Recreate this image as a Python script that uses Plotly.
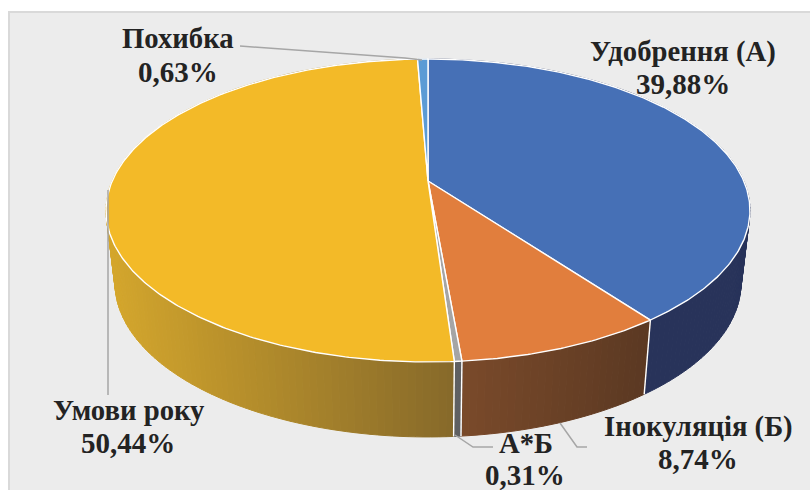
import numpy as np
import plotly.graph_objects as go

categories = ["Удобрення (А)", "Інокуляція (Б)", "А*Б", "Умови року", "Похибка"]
values = [39.88, 8.74, 0.31, 50.44, 0.63]
top_colors = ["#4670B6", "#E17E3D", "#A5A5A5", "#F3BA28", "#5B9BD5"]
side_left = ["#28335A", "#7A4A2A", "#5F6062", "#D6A82C", "#3A6A9A"]
side_right = ["#28335A", "#5A3822", "#5F6062", "#86692A", "#3A6A9A"]

# layout constants (pixels of the 810x490 page)
W, H = 810, 490
CX, K = 428.0, 0.1947
TOP = dict(a=315.8, p=181.0, q=-110.5)
BOT = dict(a=307.0, p=253.0, q=-98.9)
NAME_POS = [(683, 51), (698, 426), (526, 443), (129, 410), (178, 38)]
VALUE_POS = [(683, 84), (698, 459), (525, 475), (128, 443), (178, 72)]
LEADERS = [
    ([240, 405, 422], [46, 58, 60]),
    ([108, 108], [190, 395]),
    ([455, 473, 493], [435, 447, 447]),
    ([560, 577, 587], [423, 447, 447]),
]


def project(theta, disc, r=1.0):
    X, Y = r * np.sin(theta), r * np.cos(theta)
    d = 1 + K * Y
    return CX + disc["a"] * X / d, (disc["p"] + disc["q"] * Y) / d


def mix(c1, c2, t):
    a = [int(c1[i:i + 2], 16) for i in (1, 3, 5)]
    b = [int(c2[i:i + 2], 16) for i in (1, 3, 5)]
    return "rgb(%d,%d,%d)" % tuple(round(u + (v - u) * t) for u, v in zip(a, b))


def poly(x, y, fill=None, line=None, width=0.0):
    return go.Scatter(
        x=list(x), y=list(y), mode="lines",
        fill="toself" if fill else "none", fillcolor=fill,
        line=dict(color=line or fill, width=width),
        hoverinfo="skip", showlegend=False,
    )


fig = go.Figure()
total = sum(values)
edges = np.concatenate([[0], np.cumsum(values)]) / total * 2 * np.pi
spans = list(zip(edges[:-1], edges[1:]))

# white halo of the lower rim: drawn first, the walls cover its inner half
th_all = np.linspace(0, 2 * np.pi, 400)
hx, hy = project(th_all, BOT)
fig.add_trace(poly(hx, hy, line="#FFFFFF", width=1.4))

# side walls: gradient strips
for (t0, t1), cl, cr in zip(spans, side_left, side_right):
    n = max(2, int((t1 - t0) / 0.02))
    th = np.linspace(t0, t1, n + 1)
    xb, yb = project(th, BOT)
    xt, yt = project(th, TOP)
    xmin, xmax = min(xb.min(), xt.min()), max(xb.max(), xt.max())
    for i in range(n):
        u = (0.5 * (xb[i] + xb[i + 1]) - xmin) / max(xmax - xmin, 1)
        c = mix(cl, cr, u)
        fig.add_trace(poly([xt[i], xt[i + 1], xb[i + 1], xb[i], xt[i]],
                           [yt[i], yt[i + 1], yb[i + 1], yb[i], yt[i]],
                           fill=c, line=c, width=1.0))

# white separators between the walls
for e in edges[1:-1]:
    xt, yt = project(np.array([e]), TOP)
    xb, yb = project(np.array([e]), BOT)
    fig.add_trace(poly(np.r_[xt, xb], np.r_[yt, yb], line="#FFFFFF", width=1.4))

# top face wedges
for (t0, t1), c in zip(spans, top_colors):
    th = np.linspace(t0, t1, max(2, int((t1 - t0) / 0.01)) + 1)
    x, y = project(th, TOP)
    ax, ay = project(np.array([0.0]), TOP, r=0.0)
    fig.add_trace(poly(np.r_[ax, x, ax], np.r_[ay, y, ay],
                       fill=c, line="#FFFFFF", width=1.4))

# leader lines
for lx, ly in LEADERS:
    fig.add_trace(poly(lx, ly, line="#A6A6A6", width=1.5))

FONT = "Liberation Serif"
for name, v, np_, vp in zip(categories, values, NAME_POS, VALUE_POS):
    fig.add_annotation(x=np_[0], y=np_[1], xref="x", yref="y", showarrow=False,
                       text=f"<b>{name}</b>",
                       font=dict(family=FONT, size=28.7, color="#232323"),
                       xanchor="center", yanchor="middle")
    fig.add_annotation(x=vp[0], y=vp[1], xref="x", yref="y", showarrow=False,
                       text=f"<b>{str(v).replace('.', ',')}%</b>",
                       font=dict(family=FONT, size=29, color="#232323"),
                       xanchor="center", yanchor="middle")

fig.add_shape(type="rect", x0=9, y0=12, x1=W + 20, y1=H + 20, layer="below",
              xref="x", yref="y", fillcolor="#ECECEC",
              line=dict(color="#D9D9D9", width=2))

fig.update_layout(
    width=W, height=H, margin=dict(l=0, r=0, t=0, b=0),
    paper_bgcolor="#FFFFFF", plot_bgcolor="#FFFFFF", showlegend=False,
    xaxis=dict(range=[0, W], visible=False, fixedrange=True),
    yaxis=dict(range=[H, 0], visible=False, fixedrange=True),
)
fig.write_html("out.html", config={"displayModeBar": False},
               post_script="document.body.style.margin='0';document.documentElement.style.overflow='hidden';")
